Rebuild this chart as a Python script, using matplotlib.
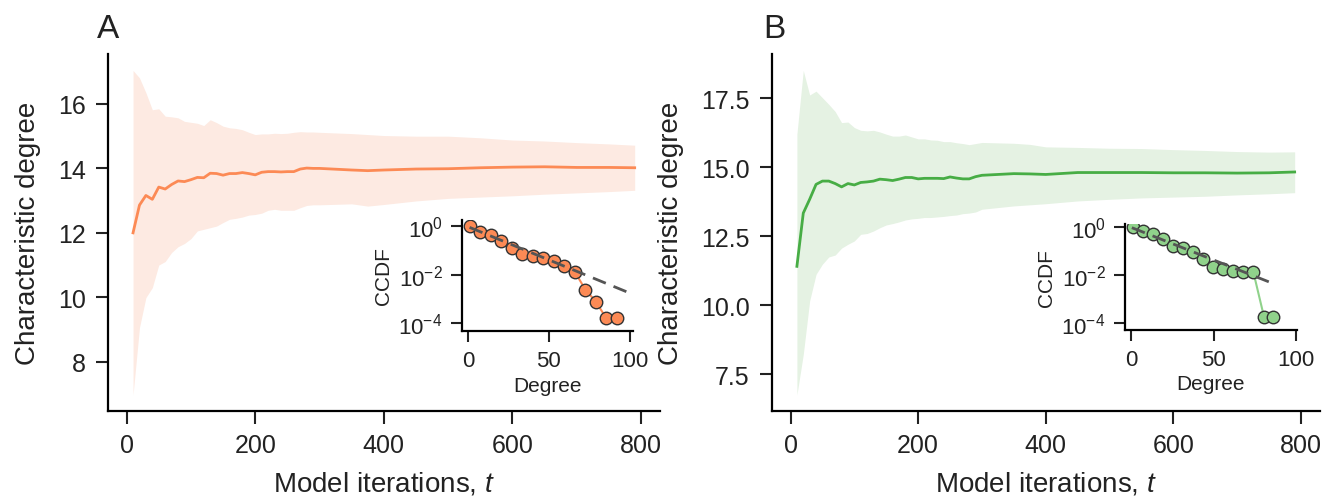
import matplotlib
matplotlib.use("Agg")
import matplotlib.pyplot as plt
import numpy as np

plt.rcParams['font.family'] = ['Liberation Sans', 'DejaVu Sans']
plt.rcParams['mathtext.fontset'] = 'custom'
plt.rcParams['mathtext.rm'] = 'Liberation Sans'
plt.rcParams['mathtext.it'] = 'Liberation Sans:italic'
plt.rcParams['axes.linewidth'] = 1.6
plt.rcParams['text.color'] = '#222222'
plt.rcParams['axes.labelcolor'] = '#222222'
plt.rcParams['xtick.color'] = '#222222'
plt.rcParams['ytick.color'] = '#222222'

# model iterations
t = [10, 20, 30, 40, 50, 60, 70, 80, 90, 100, 110, 120, 130, 140, 150,
     160, 170, 180, 190, 200, 210, 220, 230, 240, 250, 260, 270, 280, 290, 300,
     350, 375, 400, 450, 500, 550, 600, 650, 700, 750, 790]

# panel A: mean and band
mean_a = [12.0, 12.86, 13.16, 13.04, 13.42, 13.36, 13.50, 13.61, 13.59, 13.65,
          13.72, 13.71, 13.85, 13.84, 13.79, 13.84, 13.84, 13.87, 13.84, 13.80,
          13.88, 13.90, 13.90, 13.89, 13.90, 13.90, 13.98, 14.01, 14.0, 14.0,
          13.95, 13.93, 13.95, 13.98, 13.99, 14.02, 14.04, 14.05, 14.03, 14.03, 14.02]
upper_a = [17.04, 16.81, 16.35, 15.82, 15.85, 15.62, 15.60, 15.57, 15.46, 15.43,
           15.40, 15.33, 15.51, 15.42, 15.31, 15.26, 15.24, 15.20, 15.12, 15.05,
           15.07, 15.07, 15.09, 15.08, 15.09, 15.12, 15.14, 15.13, 15.13, 15.12,
           15.08, 15.05, 15.02, 15.0, 15.0, 14.95, 14.88, 14.85, 14.80, 14.76, 14.72]
lower_a = [6.97, 9.06, 9.99, 10.30, 11.0, 11.11, 11.39, 11.57, 11.67, 11.82,
           12.06, 12.11, 12.16, 12.21, 12.32, 12.42, 12.45, 12.49, 12.55, 12.57,
           12.61, 12.70, 12.73, 12.70, 12.70, 12.70, 12.78, 12.85, 12.87, 12.87,
           12.90, 12.83, 12.88, 12.99, 13.07, 13.11, 13.15, 13.20, 13.24, 13.28, 13.32]

# panel B: mean and band
mean_b = [11.41, 13.34, 13.84, 14.38, 14.50, 14.50, 14.41, 14.29, 14.41, 14.36,
          14.45, 14.47, 14.50, 14.57, 14.55, 14.52, 14.57, 14.63, 14.63, 14.58,
          14.60, 14.60, 14.60, 14.59, 14.65, 14.61, 14.58, 14.58, 14.66, 14.71,
          14.77, 14.76, 14.74, 14.81, 14.81, 14.81, 14.80, 14.80, 14.79, 14.80, 14.83]
upper_b = [16.2, 18.51, 17.62, 17.76, 17.52, 17.28, 17.02, 16.62, 16.64, 16.44,
           16.34, 16.32, 16.34, 16.28, 16.20, 16.13, 16.13, 16.17, 16.10, 16.03,
           16.03, 15.99, 15.98, 15.93, 15.93, 15.89, 15.86, 15.82, 15.86, 15.90,
           15.87, 15.83, 15.74, 15.72, 15.69, 15.68, 15.64, 15.61, 15.57, 15.55, 15.56]
lower_b = [6.75, 8.22, 10.16, 11.12, 11.49, 11.75, 11.82, 12.07, 12.21, 12.33,
           12.57, 12.60, 12.69, 12.81, 12.91, 12.96, 13.02, 13.09, 13.13, 13.15,
           13.18, 13.18, 13.20, 13.22, 13.25, 13.27, 13.32, 13.34, 13.38, 13.48,
           13.60, 13.64, 13.68, 13.78, 13.84, 13.89, 13.92, 13.95, 14.0, 14.04, 14.08]

yticks_a = [8, 10, 12, 14, 16]
yticks_b = [7.5, 10.0, 12.5, 15.0, 17.5]

# inset CCDFs
deg_a = [1, 7.5, 14, 20.5, 27, 33.5, 40, 46.5, 53, 59.5, 66, 72.5, 79, 85.5, 92]
ccdf_a = [1.0, 0.60, 0.44, 0.25, 0.13, 0.074, 0.060, 0.047, 0.035, 0.022,
          0.013, 0.0024, 0.00076, 0.000155, 0.000155]
fit_deg_a = [1, 98]
fit_ccdf_a = [0.89, 0.00195]

deg_b = [1, 7, 13.4, 19.5, 25.5, 31.5, 37.5, 43.6, 49.6, 55.6, 61.6, 67.6, 74.1, 80.5, 86.1]
ccdf_b = [1.0, 0.74, 0.51, 0.32, 0.166, 0.133, 0.093, 0.047, 0.022, 0.018,
          0.0148, 0.0138, 0.0129, 0.000174, 0.000174]
fit_deg_b = [0.5, 85]
fit_ccdf_b = [0.98, 0.0047]

orange = '#fc8a55'
orange_fill = '#fdeae2'
green = '#47ad45'
green_fill = '#e5f2e3'
green_pt = '#90d28b'

fig = plt.figure(figsize=(13.41, 5.02), dpi=100)

def main_panel(rect, mean, lo, hi, col, fill, yticks, fmt):
    ax = fig.add_axes(rect)
    ax.fill_between(t, lo, hi, color=fill, lw=0)
    ax.plot(t, mean, color=col, lw=2)
    for s in ['top', 'right']:
        ax.spines[s].set_visible(False)
    ax.tick_params(labelsize=18, length=9, width=1.5, pad=7)
    ax.set_xticks([0, 200, 400, 600, 800])
    ax.set_yticks(yticks)
    ax.set_yticklabels([fmt.format(v) for v in yticks])
    ax.set_xlabel('Model iterations, $t$', fontsize=20, labelpad=9)
    ax.set_ylabel('Characteristic degree', fontsize=20, labelpad=12)
    return ax

def inset(rect, deg, ccdf, fdeg, fccdf, col, lcol, xlim, ylim):
    ax = fig.add_axes(rect)
    ax.plot(deg, ccdf, color=lcol, lw=1.5, zorder=2)
    ax.plot(deg, ccdf, 'o', ms=9, mfc=col, mec='#333333', mew=1, zorder=3)
    ax.plot(fdeg, fccdf, ls=(0, (5, 3)), color='#555555', lw=2, zorder=4)
    ax.set_yscale('log')
    ax.set_yticks([1, 1e-2, 1e-4])
    ax.minorticks_off()
    ax.set_xticks([0, 50, 100])
    ax.set_xlim(*xlim)
    ax.set_ylim(*ylim)
    ax.patch.set_alpha(0)
    for s in ['top', 'right']:
        ax.spines[s].set_visible(False)
    ax.tick_params(labelsize=16, length=8, width=1.5, pad=6)
    ax.set_xlabel('Degree', fontsize=15, labelpad=3)
    ax.set_ylabel('CCDF', fontsize=15, labelpad=4)
    return ax

main_panel([0.0805, 0.179, 0.4115, 0.711], mean_a, lower_a, upper_a,
           orange, orange_fill, yticks_a, '{:.0f}')
main_panel([0.5757, 0.179, 0.4083, 0.711], mean_b, lower_b, upper_b,
           green, green_fill, yticks_b, '{:.1f}')

inset([0.3445, 0.3386, 0.1275, 0.221], deg_a, ccdf_a, fit_deg_a, fit_ccdf_a,
      orange, orange, (-3.7, 101.9), (10 ** -4.33, 10 ** 0.25))
inset([0.839, 0.341, 0.128, 0.211], deg_b, ccdf_b, fit_deg_b, fit_ccdf_b,
      green_pt, green_pt, (-3.6, 100.3), (10 ** -4.3, 10 ** 0.15))

fig.text(0.072, 0.925, 'A', fontsize=24)
fig.text(0.569, 0.925, 'B', fontsize=24)

fig.savefig('out.png', dpi=100)
